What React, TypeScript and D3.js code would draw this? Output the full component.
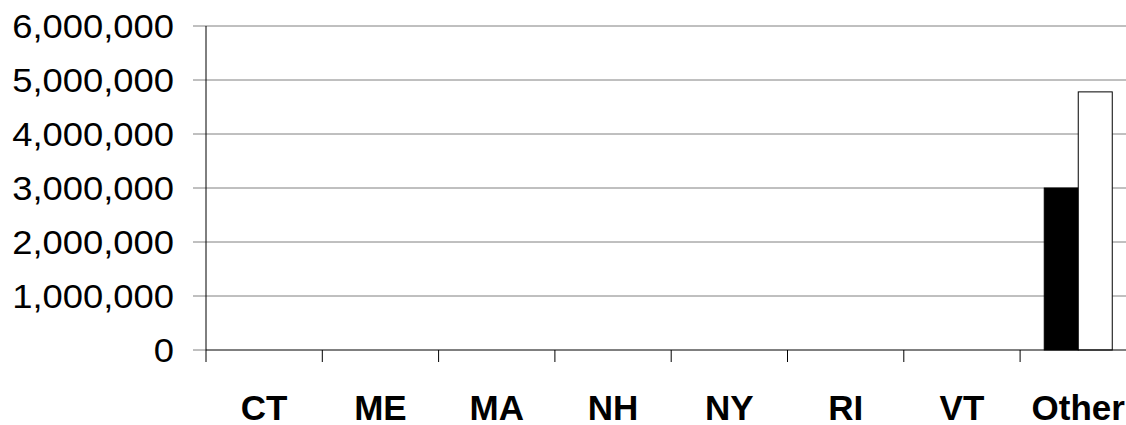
import React from 'react';
import * as d3 from 'd3';

const categories = ['CT', 'ME', 'MA', 'NH', 'NY', 'RI', 'VT', 'Other'];
const seriesA = [0, 0, 0, 0, 0, 0, 0, 3000000];
const seriesB = [0, 0, 0, 0, 0, 0, 0, 4780000];
const yTicks = [0, 1000000, 2000000, 3000000, 4000000, 5000000, 6000000];

const width = 1126;
const height = 425;
const margin = { top: 26, left: 206, bottom: 75 };
const bandStep = 116.3;

const App: React.FC = () => {
  const y = d3.scaleLinear().domain([0, 6000000]).range([height - margin.bottom, margin.top]);
  const x = d3.scaleBand<string>()
    .domain(categories)
    .range([margin.left, margin.left + bandStep * categories.length])
    .padding(0);
  // two bars per category, ~34px each, centred in the band
  const inner = d3.scaleBand<string>()
    .domain(['a', 'b'])
    .range([0, x.bandwidth()])
    .paddingOuter(0.71)
    .paddingInner(0);
  const fmt = d3.format(',');
  const y0 = y(0);

  return (
    <svg width={width} height={height} style={{ position: 'absolute', left: 0, top: 0, background: '#fff' }}
      fontFamily="'Liberation Sans', Arial, sans-serif">
      {/* gridlines */}
      {yTicks.filter(t => t > 0).map(t => (
        <line key={t} x1={margin.left - 13} x2={width} y1={y(t)} y2={y(t)} stroke="#808080" strokeWidth={1} />
      ))}
      <line x1={margin.left - 13} x2={margin.left} y1={y0} y2={y0} stroke="#808080" />
      {/* y labels */}
      {yTicks.map(t => (
        <text key={t} transform={`translate(174,${y(t)}) scale(1.07,1)`} textAnchor="end" dominantBaseline="central"
          fontSize={34} fill="#000">{fmt(t)}</text>
      ))}
      {/* bars */}
      {categories.map((c, i) => (
        <g key={c} transform={`translate(${x(c)},0)`}>
          {seriesA[i] > 0 && (
            <rect x={inner('a')} y={y(seriesA[i])} width={inner.bandwidth()} height={y0 - y(seriesA[i])}
              fill="#000" stroke="#000" strokeWidth={1} />
          )}
          {seriesB[i] > 0 && (
            <rect x={inner('b')} y={y(seriesB[i])} width={inner.bandwidth()} height={y0 - y(seriesB[i])}
              fill="#fff" stroke="#000" strokeWidth={1} />
          )}
        </g>
      ))}
      {/* axes */}
      <line x1={margin.left} x2={margin.left} y1={margin.top} y2={y0} stroke="#000" />
      <line x1={margin.left} x2={width} y1={y0} y2={y0} stroke="#000" />
      {categories.map(c => (
        <line key={c} x1={x(c)!} x2={x(c)!} y1={y0} y2={y0 + 12} stroke="#000" />
      ))}
      {/* category labels */}
      {categories.map(c => (
        <text key={c} x={x(c)! + x.bandwidth() / 2} y={420} textAnchor="middle" fontSize={35} fontWeight="bold"
          fill="#000">{c}</text>
      ))}
    </svg>
  );
};

export default App;
